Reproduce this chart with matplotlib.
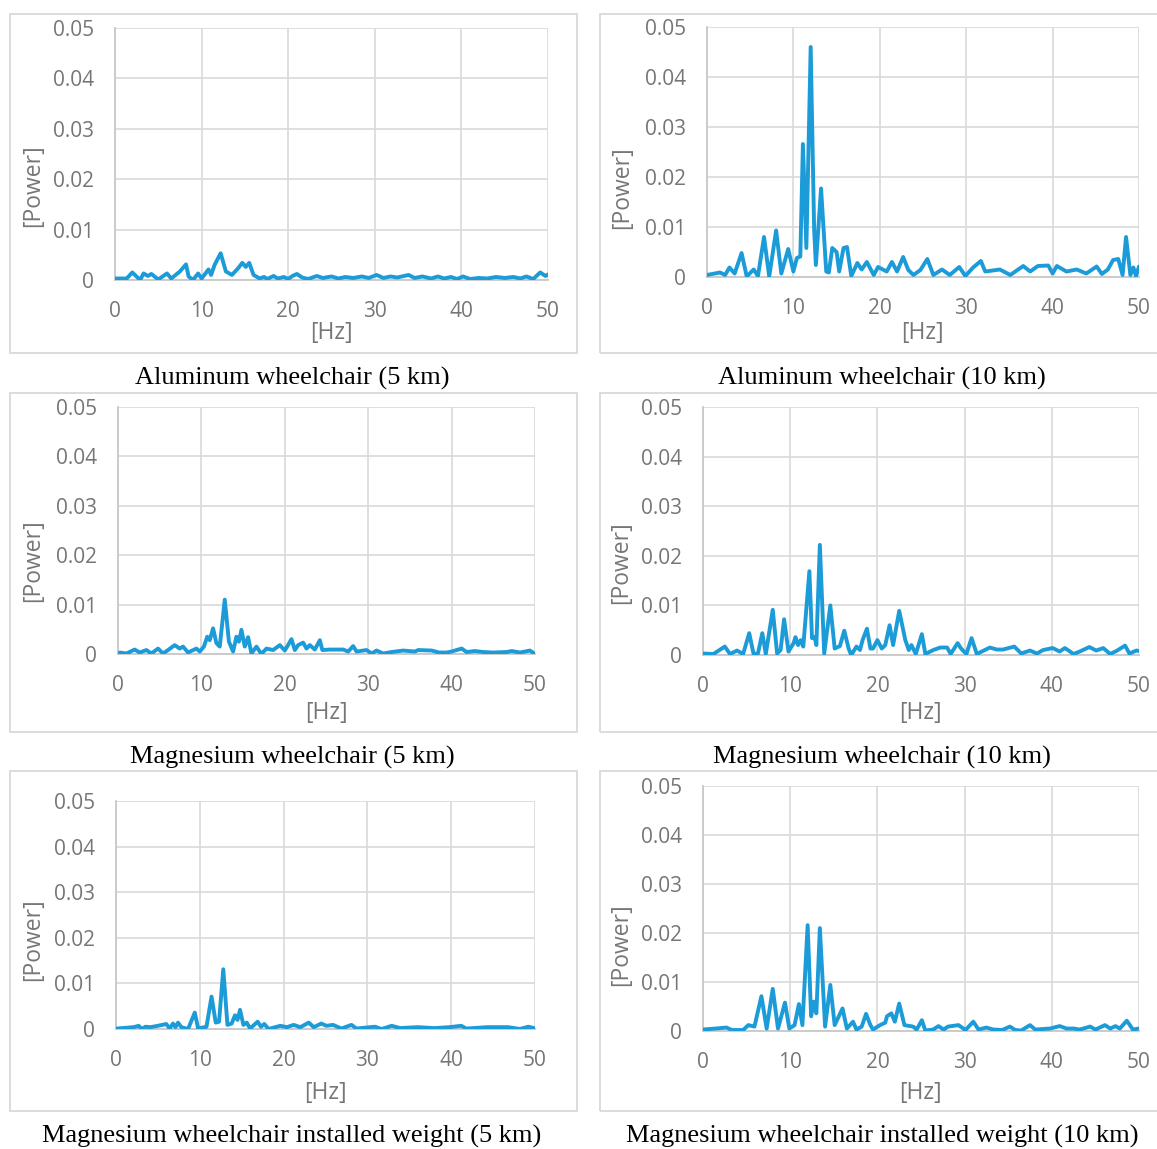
import matplotlib.pyplot as plt
from matplotlib.patches import Rectangle

# ---- data ----
f_al5 = [0, 1.35, 2.0, 2.9, 3.3, 3.8, 4.2, 5.0, 6.0, 6.5, 7.5, 8.2, 8.5, 9.0, 9.6, 10.0,
         10.8, 11.1, 11.5, 12.2, 12.8, 13.5, 14.2, 14.7, 15.1, 15.5, 16.0, 16.7, 17.2,
         17.6, 18.3, 18.8, 19.5, 20.0, 20.5, 21.0, 21.6, 22.3, 23.3, 24.0, 25.0, 25.8,
         26.6, 27.5, 28.5, 29.3, 30.2, 31.0, 31.8, 32.6, 33.9, 34.6, 35.5, 36.5, 37.3,
         38.0, 38.8, 39.5, 40.2, 41.0, 42.0, 43.0, 44.0, 45.0, 46.0, 46.8, 47.5, 48.3,
         49.1, 49.7, 50.0]
p_al5 = [0.0003, 0.0003, 0.0015, 0.0, 0.0013, 0.0008, 0.0012, 0.0001, 0.0013, 0.0003,
         0.0017, 0.0031, 0.0007, 0.0, 0.0013, 0.0003, 0.0021, 0.001, 0.003, 0.0053,
         0.0017, 0.001, 0.0023, 0.0034, 0.0026, 0.0034, 0.001, 0.0003, 0.0006, 0.0002,
         0.0008, 0.0003, 0.0006, 0.0002, 0.0008, 0.0012, 0.0005, 0.0002, 0.0008, 0.0004,
         0.0007, 0.0003, 0.0006, 0.0004, 0.0007, 0.0004, 0.001, 0.0004, 0.0007, 0.0005,
         0.001, 0.0004, 0.0007, 0.0003, 0.0007, 0.0003, 0.0006, 0.0002, 0.0007, 0.0002,
         0.0004, 0.0003, 0.0006, 0.0004, 0.0006, 0.0003, 0.0007, 0.0002, 0.0015, 0.0008,
         0.0011]

f_al10 = [0.0, 1.5, 2.1, 2.6, 3.2, 4.0, 4.6, 5.4, 5.9, 6.6, 7.2, 8.0, 8.6, 9.4, 10.0,
          10.4, 10.8, 11.1, 11.5, 12.0, 12.4, 12.6, 13.2, 13.8, 14.1, 14.5, 15.0, 15.3,
          15.8, 16.2, 16.7, 17.4, 17.9, 18.5, 19.3, 19.8, 20.8, 21.4, 22.0, 22.7, 23.3,
          23.9, 24.7, 25.5, 26.2, 27.2, 28.1, 29.2, 29.9, 30.8, 31.7, 32.2, 33.9, 35.1,
          36.6, 37.4, 38.3, 39.5, 40.0, 40.5, 41.6, 42.8, 43.9, 45.1, 45.7, 46.4, 47.0,
          47.6, 48.1, 48.5, 49.0, 49.35, 49.65, 50.0]
p_al10 = [0.0004, 0.0009, 0.0004, 0.0019, 0.0007, 0.0048, 0.0001, 0.0015, 0.0002, 0.008,
          0.0001, 0.0093, 0.0007, 0.0056, 0.0011, 0.0038, 0.0041, 0.0266, 0.0058, 0.046,
          0.0095, 0.0024, 0.0177, 0.0011, 0.0009, 0.0058, 0.005, 0.0011, 0.0058, 0.006,
          0.0002, 0.0028, 0.0015, 0.003, 0.0004, 0.002, 0.0011, 0.003, 0.0011, 0.004,
          0.0014, 0.0004, 0.0014, 0.0036, 0.0004, 0.0015, 0.0004, 0.002, 0.0002, 0.0019,
          0.0032, 0.0011, 0.0015, 0.0004, 0.0022, 0.0011, 0.0022, 0.0023, 0.0007, 0.0022,
          0.0011, 0.0015, 0.0007, 0.0021, 0.0006, 0.0015, 0.0034, 0.0036, 0.0004, 0.008,
          0.0004, 0.0019, 0.0002, 0.0021]

f_mg5 = [0.2, 1.0, 2.0, 2.6, 3.4, 4.0, 4.8, 5.4, 6.0, 6.8, 7.4, 7.8, 8.4, 9.4, 9.8, 10.3,
         10.7, 11.0, 11.4, 11.8, 12.2, 12.8, 13.3, 13.8, 14.2, 14.5, 14.8, 15.2, 15.6,
         16.0, 16.6, 17.2, 17.8, 18.6, 19.4, 20.0, 20.8, 21.2, 21.6, 22.2, 22.6, 23.0,
         23.6, 24.2, 24.5, 25.4, 27.0, 27.6, 28.2, 28.6, 29.8, 30.4, 31.0, 31.8, 32.8,
         34.2, 35.6, 36.0, 37.6, 38.5, 39.4, 40.0, 41.2, 41.8, 42.8, 43.8, 45.0, 46.6,
         47.2, 48.2, 49.4, 49.9]
p_mg5 = [0.0003, 0.0001, 0.0009, 0.0003, 0.0008, 0.0001, 0.0011, 0.0001, 0.0008, 0.0018,
         0.0011, 0.0015, 0.0003, 0.0011, 0.0005, 0.0015, 0.0035, 0.0028, 0.0052, 0.0022,
         0.0015, 0.011, 0.0025, 0.0005, 0.0035, 0.0025, 0.0049, 0.0015, 0.0034, 0.0001,
         0.0015, 0.0, 0.0011, 0.0008, 0.0018, 0.0007, 0.003, 0.0008, 0.0018, 0.0023,
         0.0011, 0.0018, 0.0009, 0.0028, 0.0008, 0.0009, 0.0009, 0.0005, 0.0016, 0.0005,
         0.0008, 0.0001, 0.0007, 0.0001, 0.0004, 0.0007, 0.0005, 0.0008, 0.0007, 0.0003,
         0.0003, 0.0005, 0.0011, 0.0004, 0.0006, 0.0004, 0.0003, 0.0004, 0.0006, 0.0003,
         0.0007, 0.0001]

f_mg10 = [0.0, 1.2, 2.5, 3.1, 3.9, 4.6, 5.3, 5.8, 6.3, 6.8, 7.2, 8.0, 8.5, 8.9, 9.3, 9.8,
          10.4, 10.6, 10.9, 11.2, 11.5, 12.2, 12.5, 12.8, 13.0, 13.4, 13.9, 14.6, 15.1,
          15.7, 16.2, 16.7, 17.0, 17.6, 18.0, 18.3, 18.8, 19.2, 19.5, 20.0, 20.5, 20.9,
          21.4, 21.8, 22.5, 23.2, 23.6, 23.9, 24.4, 25.1, 25.5, 26.4, 27.2, 28.0, 28.4,
          29.2, 29.6, 30.2, 30.8, 31.4, 32.2, 32.9, 33.7, 34.4, 35.7, 36.5, 37.5, 38.3,
          39.0, 40.1, 40.9, 41.5, 42.5, 43.2, 44.3, 45.1, 45.9, 46.7, 47.5, 48.4, 48.9,
          49.7, 50.0]
p_mg10 = [0.0003, 0.0002, 0.0017, 0.0002, 0.0009, 0.0002, 0.0044, 0.0002, 0.0003, 0.0044,
          0.0002, 0.0091, 0.0003, 0.001, 0.0072, 0.0007, 0.0024, 0.0036, 0.002, 0.003,
          0.0017, 0.0169, 0.0034, 0.0036, 0.002, 0.0222, 0.0003, 0.01, 0.0013, 0.0018,
          0.0049, 0.0013, 0.0, 0.0017, 0.001, 0.003, 0.0053, 0.0013, 0.0013, 0.003,
          0.0013, 0.002, 0.006, 0.002, 0.0089, 0.003, 0.001, 0.002, 0.0002, 0.0042,
          0.0002, 0.001, 0.0015, 0.0015, 0.0002, 0.0024, 0.0013, 0.0002, 0.0034, 0.0002,
          0.0009, 0.0015, 0.0011, 0.0011, 0.0017, 0.0003, 0.0009, 0.0003, 0.001, 0.0014,
          0.0007, 0.0014, 0.0002, 0.0007, 0.0016, 0.0009, 0.0014, 0.0002, 0.0009, 0.0019,
          0.0003, 0.0009, 0.0008]

f_mgw5 = [0.1, 2.1, 2.7, 3.1, 3.5, 4.1, 5.0, 6.0, 6.4, 6.8, 7.1, 7.4, 7.8, 8.6, 9.4, 9.8,
          10.8, 11.4, 11.9, 12.3, 12.8, 13.3, 13.8, 14.2, 14.5, 14.8, 15.2, 15.6, 16.0,
          16.9, 17.3, 17.7, 18.2, 19.6, 20.4, 21.2, 22.0, 23.0, 23.6, 24.5, 25.1, 25.9,
          26.9, 28.1, 28.7, 30.9, 31.7, 32.9, 33.9, 36.0, 38.0, 39.8, 41.2, 41.8, 44.3,
          46.8, 48.2, 49.2, 49.9]
p_mgw5 = [0.0001, 0.0004, 0.0007, 0.0, 0.0005, 0.0004, 0.0007, 0.0011, 0.0001, 0.0012,
          0.0004, 0.0014, 0.0004, 0.0, 0.0036, 0.0001, 0.0005, 0.0071, 0.0014, 0.0016,
          0.0131, 0.0009, 0.0012, 0.003, 0.002, 0.0042, 0.0009, 0.0014, 0.0001, 0.0016,
          0.0005, 0.0011, 0.0, 0.0007, 0.0004, 0.0009, 0.0004, 0.0014, 0.0004, 0.0012,
          0.0007, 0.0009, 0.0001, 0.0009, 0.0001, 0.0005, 0.0, 0.0007, 0.0002, 0.0004,
          0.0002, 0.0004, 0.0007, 0.0001, 0.0004, 0.0004, 0.0, 0.0005, 0.0002]

f_mgw10 = [0.0, 1.4, 2.7, 3.3, 4.6, 5.2, 5.9, 6.7, 7.3, 8.0, 8.6, 9.4, 9.9, 10.5, 11.0,
           11.4, 12.0, 12.4, 12.7, 13.0, 13.4, 14.0, 14.6, 15.1, 16.0, 16.5, 17.2, 17.6,
           18.2, 18.7, 19.2, 19.5, 20.3, 20.9, 21.1, 21.6, 22.0, 22.5, 23.1, 24.1, 24.5,
           25.1, 25.5, 26.4, 27.0, 27.6, 28.1, 29.3, 30.1, 31.0, 31.6, 32.5, 33.3, 34.3,
           35.2, 35.8, 36.5, 37.5, 38.1, 39.8, 40.9, 41.7, 42.5, 43.2, 44.4, 45.0, 46.1,
           46.7, 47.3, 47.8, 48.6, 49.3, 50.0]
p_mgw10 = [0.0003, 0.0005, 0.0007, 0.0002, 0.0002, 0.0012, 0.0009, 0.0071, 0.0005, 0.0086,
           0.0005, 0.0058, 0.0005, 0.0012, 0.0055, 0.0012, 0.0216, 0.003, 0.006, 0.0036,
           0.021, 0.0009, 0.0094, 0.0012, 0.0046, 0.0005, 0.0019, 0.0003, 0.0009, 0.0035,
           0.0012, 0.0003, 0.0012, 0.0017, 0.003, 0.0036, 0.0019, 0.0056, 0.0012, 0.0009,
           0.0003, 0.0022, 0.0001, 0.0003, 0.001, 0.0003, 0.0009, 0.0012, 0.0002, 0.0019,
           0.0003, 0.0007, 0.0003, 0.0002, 0.0009, 0.0002, 0.0001, 0.0012, 0.0003, 0.0005,
           0.001, 0.0005, 0.0005, 0.0003, 0.0009, 0.0003, 0.0012, 0.0005, 0.001, 0.0005,
           0.0021, 0.0003, 0.0005]

captions = ['Aluminum wheelchair (5 km)', 'Aluminum wheelchair (10 km)',
            'Magnesium wheelchair (5 km)', 'Magnesium wheelchair (10 km)',
            'Magnesium wheelchair installed weight (5 km)',
            'Magnesium wheelchair installed weight (10 km)']
series = [(f_al5, p_al5), (f_al10, p_al10), (f_mg5, p_mg5),
          (f_mg10, p_mg10), (f_mgw5, p_mgw5), (f_mgw10, p_mgw10)]
x_ticks = [0, 10, 20, 30, 40, 50]
y_ticks = [0, 0.01, 0.02, 0.03, 0.04, 0.05]
y_ticklabels = ['0', '0.01', '0.02', '0.03', '0.04', '0.05']

# ---- layout in pixels ----
W, H = 1157, 1149
# plot area: x0, x1, ytop, ybottom
plots = [(115, 548, 28, 280), (707, 1139, 27, 277),
         (118, 535, 407, 654), (703, 1139, 407, 655),
         (116, 535, 801, 1029), (703, 1139, 786, 1031)]
# outer box: x0, y0, x1, y1
boxes = [(10, 14, 577, 353), (600, 14, 1162, 353),
         (10, 393, 577, 732), (600, 393, 1162, 732),
         (10, 771, 577, 1111), (600, 771, 1162, 1111)]
cap_pos = [(292, 378), (882, 378), (292, 757), (882, 757), (292, 1136), (882, 1136)]
ylab_pos = [(33, 186), (622, 188), (33, 561), (621, 563), (33, 940), (621, 945)]
xlab_pos = [(331, 333), (922, 333), (326, 713), (920, 713), (325, 1093), (920, 1093)]

line_color = '#1b9bd7'
grid_color = '#d9d9d9'
text_gray = '#767676'
tick_font = 'Open Sans'

fig = plt.figure(figsize=(W / 100, H / 100), dpi=100)


def fx(px):
    return px / W


def fy(py):
    return 1 - py / H


for i in range(6):
    bx0, by0, bx1, by1 = boxes[i]
    fig.patches.append(Rectangle((fx(bx0), fy(by1)), fx(bx1 - bx0), (by1 - by0) / H,
                                 transform=fig.transFigure, fill=False,
                                 edgecolor=grid_color, linewidth=1.3))

    x0, x1, yt, yb = plots[i]
    ax = fig.add_axes([fx(x0), fy(yb), fx(x1 - x0), (yb - yt) / H])
    f, p = series[i]
    ax.plot(f, p, color=line_color, linewidth=2.8, solid_joinstyle='round',
            solid_capstyle='round', zorder=3)
    ax.set_xlim(0, 50)
    ax.set_ylim(0, 0.05)
    ax.set_xticks(x_ticks)
    ax.set_yticks(y_ticks)
    ax.set_yticklabels(y_ticklabels)
    ax.grid(True, color=grid_color, linewidth=1.2, zorder=0)
    ax.set_axisbelow(True)
    for s in ['top', 'right']:
        ax.spines[s].set_visible(False)
    for s in ['left', 'bottom']:
        ax.spines[s].set_color('#c8c8c8')
        ax.spines[s].set_linewidth(1.3)
    ax.tick_params(length=0, labelsize=15, labelcolor=text_gray, pad=15)
    for lab in ax.get_xticklabels() + ax.get_yticklabels():
        lab.set_fontfamily(tick_font)
    ax.patch.set_alpha(0)

    fig.text(fx(ylab_pos[i][0]), fy(ylab_pos[i][1]), '[Power]', rotation=90,
             ha='center', va='center', fontsize=16.5, color=text_gray, family=tick_font)
    fig.text(fx(xlab_pos[i][0]), fy(xlab_pos[i][1]), '[Hz]', ha='center', va='center',
             fontsize=16.5, color=text_gray, family=tick_font)
    fig.text(fx(cap_pos[i][0]), fy(cap_pos[i][1]), captions[i], ha='center', va='center',
             fontsize=19, color='black', family='Liberation Serif')

fig.savefig('out.png', dpi=100)
